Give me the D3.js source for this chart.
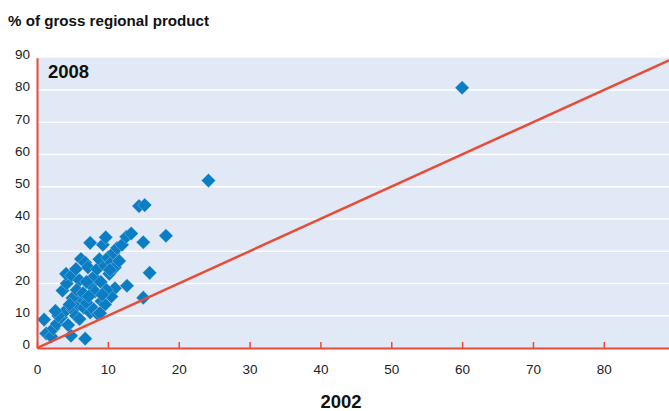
<!DOCTYPE html>
<html>
<head>
<meta charset="utf-8">
<script src="https://cdn.jsdelivr.net/npm/d3@7"></script>
<style>
  html, body { margin: 0; padding: 0; background: #fff; }
  svg { display: block; font-family: "Liberation Sans", Arial, sans-serif; }
</style>
</head>
<body>
<svg id="chart" width="669" height="411"></svg>
<script>
// Regional values: share of gross regional product, 2002 (x) vs 2008 (y)
const share2002 = [
  1.0, 1.3, 2.0, 2.3, 2.8, 3.4, 4.0, 4.4, 4.8, 6.8,
  5.0, 5.5, 5.8, 6.2, 6.6, 7.0, 7.5, 8.0, 8.6, 9.1,
  9.6, 3.6, 4.2, 4.1, 4.9, 5.5, 6.0, 6.2, 6.8, 7.2,
  7.5, 7.6, 8.2, 8.0, 8.5, 8.8, 9.0, 9.3, 9.7, 9.6,
  10.0, 10.2, 10.5, 10.8, 11.0, 11.3, 11.6, 12.0, 12.6, 13.3,
  12.7, 11.0, 10.5, 9.8, 5.0, 5.6, 6.5, 7.0, 3.0, 2.6,
  8.9, 10.3, 7.3, 6.0, 4.6, 9.2, 15.0, 18.2, 15.9, 15.0,
  14.4, 15.2, 24.2, 60.0
];
const share2008 = [
  8.8, 4.5, 3.6, 6.0, 7.5, 9.5, 11.5, 7.1, 3.8, 2.9,
  12.0, 10.0, 13.5, 15.5, 12.5, 14.0, 11.0, 12.0, 10.5, 14.5,
  13.5, 17.8, 20.0, 23.0, 22.5, 24.5, 21.0, 27.6, 26.5, 25.0,
  32.6, 19.5, 17.5, 22.0, 24.5, 27.5, 20.5, 32.0, 34.3, 25.5,
  28.0, 23.0, 26.5, 29.5, 25.0, 31.0, 27.0, 32.0, 34.5, 35.5,
  19.3, 18.5, 16.0, 18.0, 15.5, 18.0, 17.0, 20.5, 10.0, 11.5,
  10.8, 24.2, 16.0, 9.0, 13.5, 16.5, 32.8, 34.8, 23.3, 15.6,
  44.0, 44.3, 51.9, 80.7
];
const xTicks = [0, 10, 20, 30, 40, 50, 60, 70, 80];
const yTicks = [0, 10, 20, 30, 40, 50, 60, 70, 80, 90];
const gridValues = [10, 20, 30, 40, 50, 60, 70, 80];

const points = share2002.map((v, i) => ({ x: v, y: share2008[i] }));

const svg = d3.select("#chart");
const plotLeft = 37, plotRight = 669, plotTop = 57.7, plotBottom = 348;

const x = d3.scaleLinear().domain([0, 89.2]).range([plotLeft, plotRight]);
const y = d3.scaleLinear().domain([0, 90]).range([plotBottom, plotTop]);

const red = "#ea4b36";
const blue = "#0a7dc4";

// plot background
svg.append("rect")
  .attr("x", plotLeft).attr("y", plotTop)
  .attr("width", plotRight - plotLeft).attr("height", plotBottom - plotTop)
  .attr("fill", "#e0e9f5");

// horizontal gridlines
svg.append("g").selectAll("line").data(gridValues).join("line")
  .attr("x1", plotLeft).attr("x2", plotRight)
  .attr("y1", d => y(d)).attr("y2", d => y(d))
  .attr("stroke", "#ffffff").attr("stroke-width", 1.5);

svg.append("defs").append("clipPath").attr("id", "plot")
  .append("rect").attr("x", plotLeft).attr("y", plotTop)
  .attr("width", plotRight - plotLeft).attr("height", plotBottom - plotTop);

// diamonds
const diamond = d3.symbol().type(d3.symbolSquare).size(100);
svg.append("g").selectAll("path").data(points).join("path")
  .attr("d", diamond)
  .attr("transform", d => `translate(${x(d.x)},${y(d.y)}) rotate(45)`)
  .attr("fill", blue)
  .attr("stroke", "#dbe6f3").attr("stroke-width", 0.3);

// 45-degree reference line (2008 = 2002)
svg.append("line")
  .attr("clip-path", "url(#plot)")
  .attr("x1", x(0)).attr("y1", y(0))
  .attr("x2", x(89.2)).attr("y2", y(89.2))
  .attr("stroke", red).attr("stroke-width", 2.5);

// x axis with inward ticks
const xAxis = svg.append("g")
  .attr("transform", `translate(0,${plotBottom})`)
  .call(d3.axisBottom(x).tickValues(xTicks).tickSize(-6).tickSizeOuter(0).tickPadding(16));
xAxis.select(".domain").attr("stroke", red).attr("stroke-width", 2);
xAxis.selectAll(".tick line").attr("stroke", red).attr("stroke-width", 1.5);
xAxis.selectAll(".tick text")
  .attr("fill", "#222").attr("font-size", 13.5)
  .attr("font-family", "'Liberation Sans', Arial, sans-serif");

// y axis
const yAxis = svg.append("g")
  .attr("transform", `translate(${plotLeft},0)`)
  .call(d3.axisLeft(y).tickValues(yTicks).tickSize(0).tickPadding(7));
yAxis.select(".domain").attr("stroke", red).attr("stroke-width", 2);
yAxis.selectAll(".tick text")
  .attr("fill", "#222").attr("font-size", 13.5)
  .attr("font-family", "'Liberation Sans', Arial, sans-serif")
  .attr("transform", "translate(0,-3.5)");

// titles
svg.append("text")
  .attr("x", 8).attr("y", 26)
  .attr("font-size", 15).attr("font-weight", "bold").attr("fill", "#111")
  .attr("textLength", 201).attr("lengthAdjust", "spacingAndGlyphs")
  .text("% of gross regional product");

svg.append("text")
  .attr("x", 48).attr("y", 78)
  .attr("font-size", 18.5).attr("font-weight", "bold").attr("fill", "#111")
  .text("2008");

svg.append("text")
  .attr("x", 341).attr("y", 408)
  .attr("text-anchor", "middle")
  .attr("font-size", 18.5).attr("font-weight", "bold").attr("fill", "#111")
  .text("2002");
</script>
</body>
</html>
